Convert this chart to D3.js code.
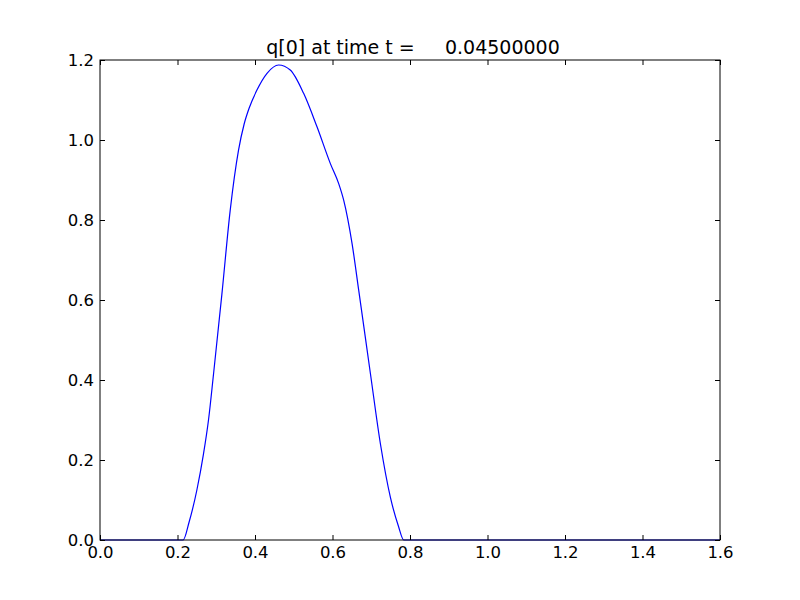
<!DOCTYPE html>
<html><head><meta charset="utf-8">
<script src="https://cdn.jsdelivr.net/npm/d3@7"></script>
<style>body{margin:0;background:#fff}svg{display:block}</style>
</head><body><svg id="c" width="800" height="600"></svg>
<script>
const titleText = "q[0] at time t =     0.04500000";
const xs = [0.0, 0.20, 0.2145, 0.230, 0.250, 0.267, 0.280, 0.293, 0.3145, 0.336, 0.3575, 0.372, 0.385, 0.405, 0.431, 0.461, 0.491, 0.5255, 0.560, 0.5945, 0.616, 0.629, 0.6505, 0.6677, 0.698, 0.7237, 0.7496, 0.770, 0.784, 0.80, 1.6];
const ys = [0.0, 0.0, 0.0, 0.045, 0.125, 0.2147, 0.30, 0.415, 0.614, 0.824, 0.9745, 1.04, 1.08, 1.1248, 1.1667, 1.1875, 1.175, 1.1166, 1.033, 0.941, 0.891, 0.849, 0.741, 0.624, 0.415, 0.240, 0.106, 0.035, 0.0, 0.0, 0.0];
const xTicks = [0.0, 0.2, 0.4, 0.6, 0.8, 1.0, 1.2, 1.4, 1.6];
const yTicks = [0.0, 0.2, 0.4, 0.6, 0.8, 1.0, 1.2];

const svg = d3.select("#c");
const L = 100, R = 720, T = 60, B = 540;
const x = d3.scaleLinear().domain([0, 1.6]).range([L, R]);
const y = d3.scaleLinear().domain([0, 1.2]).range([B, T]);
const font = "'DejaVu Sans', sans-serif";
const fs = 16.5;
const fmt = d3.format(".1f");

const data = xs.map((v, i) => [v, ys[i]]);
svg.append("path").datum(data)
  .attr("fill", "none").attr("stroke", "#0000ff").attr("stroke-width", 1.2)
  .attr("d", d3.line().x(d => x(d[0])).y(d => y(d[1])).curve(d3.curveMonotoneX));

function ax(g, axis) {
  g.call(axis);
  g.select(".domain").remove();
  g.selectAll("text").attr("font-family", font).attr("font-size", fs).attr("fill", "#000");
  g.selectAll("line").attr("stroke", "#000");
}
svg.append("g").attr("transform", `translate(0,${B})`)
  .call(g => ax(g, d3.axisBottom(x).tickValues(xTicks).tickFormat(fmt).tickSizeInner(-5).tickPadding(6)));
svg.append("g").attr("transform", `translate(0,${T})`)
  .call(g => { ax(g, d3.axisTop(x).tickValues(xTicks).tickSizeInner(-5)); g.selectAll("text").remove(); });
svg.append("g").attr("transform", `translate(${L},0)`)
  .call(g => ax(g, d3.axisLeft(y).tickValues(yTicks).tickFormat(fmt).tickSizeInner(-5).tickPadding(6)));
svg.append("g").attr("transform", `translate(${R},0)`)
  .call(g => { ax(g, d3.axisRight(y).tickValues(yTicks).tickSizeInner(-5)); g.selectAll("text").remove(); });

svg.append("rect").attr("x", L).attr("y", T).attr("width", R - L).attr("height", B - T)
  .attr("fill", "none").attr("stroke", "#000").attr("stroke-width", 1);

svg.append("text").attr("x", (L + R) / 2 + 3).attr("y", T - 6)
  .attr("text-anchor", "middle").attr("font-family", font).attr("font-size", 19)
  .attr("fill", "#000").attr("xml:space", "preserve").style("white-space", "pre")
  .text(titleText);
</script></body></html>
